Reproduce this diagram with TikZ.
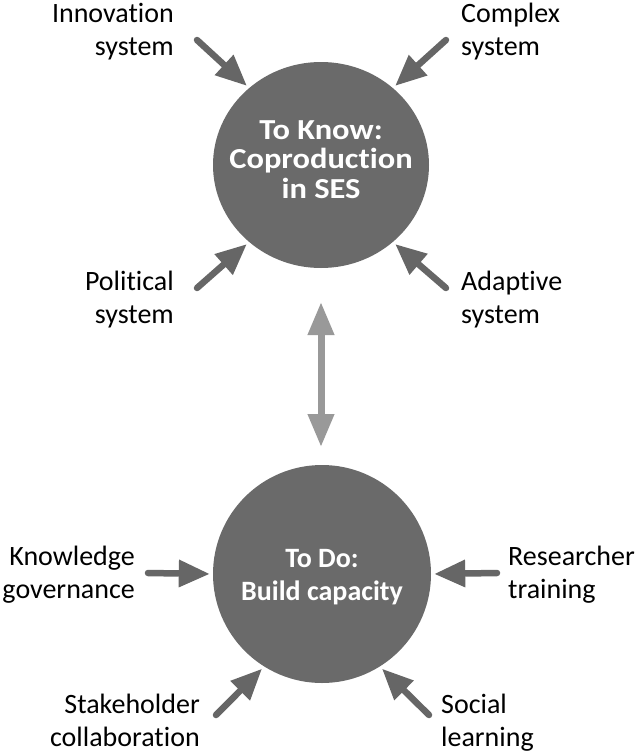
\documentclass[tikz,border=0pt]{standalone}
\usepackage{fontspec}
\setmainfont{Carlito}[Ligatures={NoCommon,NoContextual}]
\usetikzlibrary{arrows.meta,shapes.geometric}
\definecolor{circfill}{HTML}{6A6A6A}
\definecolor{arrdark}{HTML}{666666}
\definecolor{arrlight}{HTML}{999999}
\tikzset{
  bigcirc/.style={ellipse, fill=circfill, draw=none, inner sep=0pt},
  inarrow/.style={draw=arrdark, line width=6.5pt, line cap=round,
    -{Triangle[length=31pt,width=26pt]}, shorten >=3pt},
  duoarrow/.style={draw=arrlight, line width=7pt,
    {Triangle[length=33pt,width=25pt]}-{Triangle[length=33pt,width=25pt]}},
  lbl/.style={inner sep=0pt, font=\fontsize{28}{33}\selectfont, text=black},
  ctext/.style={inner sep=0pt, text=white}
}
\begin{document}
\begin{tikzpicture}[x=1pt,y=-1pt]
\useasboundingbox (0,0) rectangle (641,753);
\fill[white] (0,0) rectangle (641,753);
% circles
\node[bigcirc, minimum width=216pt, minimum height=206pt] (top) at (321,165) {};
\node[bigcirc, minimum width=218pt, minimum height=218pt] (bot) at (322,574) {};
% circle texts
\node[ctext, anchor=base, font=\fontsize{29}{29.5}\selectfont\bfseries] (toptxt) at (321,139)
  {\scalebox{1.12}[1]{\begin{tabular}[t]{@{}c@{}}To Know:\\Coproduction\\in SES\end{tabular}}};
\node[ctext, anchor=base, font=\fontsize{28}{33}\selectfont\bfseries] (bottxt) at (322,567)
  {\begin{tabular}[t]{@{}c@{}}To Do:\\Build capacity\end{tabular}};
% labels
\node[lbl, anchor=base east] (innov) at (174,22) {\begin{tabular}[t]{@{}r@{}}Innovation\\system\end{tabular}};
\node[lbl, anchor=base west] (compl) at (461,22) {\begin{tabular}[t]{@{}l@{}}Complex\\system\end{tabular}};
\node[lbl, anchor=base east] (polit) at (174,290) {\begin{tabular}[t]{@{}r@{}}Political\\system\end{tabular}};
\node[lbl, anchor=base west] (adapt) at (461,290) {\begin{tabular}[t]{@{}l@{}}Adaptive\\system\end{tabular}};
\node[lbl, anchor=base east] (know) at (135,565) {\begin{tabular}[t]{@{}r@{}}Knowledge\\governance\end{tabular}};
\node[lbl, anchor=base west] (resea) at (508,565) {\begin{tabular}[t]{@{}l@{}}Researcher\\training\end{tabular}};
\node[lbl, anchor=base east] (stake) at (200,713) {\begin{tabular}[t]{@{}r@{}}Stakeholder\\collaboration\end{tabular}};
\node[lbl, anchor=base west] (socia) at (441,713) {\begin{tabular}[t]{@{}l@{}}Social\\learning\end{tabular}};
% arrow tails
\coordinate (tInnov) at (197,40);
\coordinate (tCompl) at (446,40);
\coordinate (tPolit) at (197,288);
\coordinate (tAdapt) at (446,288);
\coordinate (tKnow) at (148,573);
\coordinate (tResea) at (497,573);
\coordinate (tStake) at (216,715);
\coordinate (tSocia) at (429,715);
% arrows into top circle
\draw[inarrow] (tInnov) -- (top.133);
\draw[inarrow] (tCompl) -- (top.47);
\draw[inarrow] (tPolit) -- (top.227);
\draw[inarrow] (tAdapt) -- (top.313);
% arrows into bottom circle
\draw[inarrow] (tKnow) -- (bot.180);
\draw[inarrow] (tResea) -- (bot.0);
\draw[inarrow] (tStake) -- (bot.238);
\draw[inarrow] (tSocia) -- (bot.302);
% double arrow
\coordinate (dTop) at (321,302);
\coordinate (dBot) at (321,447);
\draw[duoarrow] (dTop) -- (dBot);
\end{tikzpicture}
\end{document}
